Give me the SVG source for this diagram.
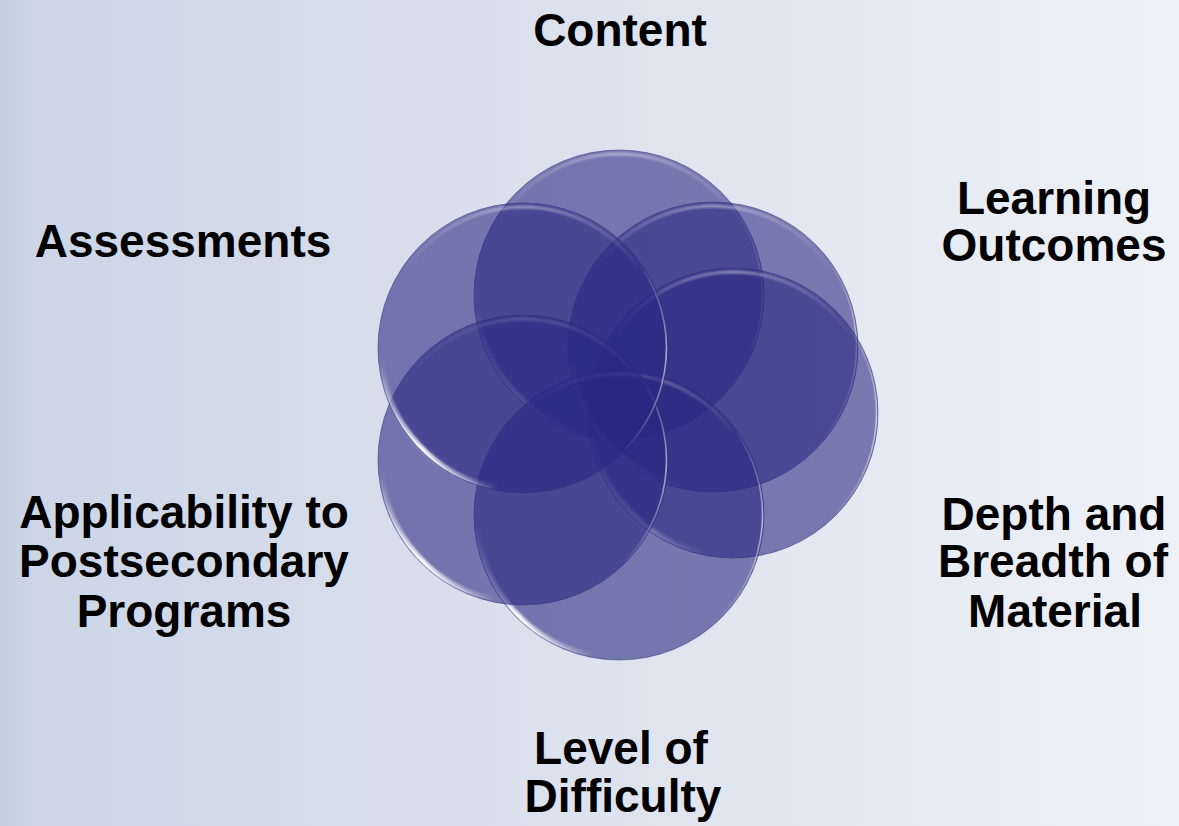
<svg xmlns="http://www.w3.org/2000/svg" width="1179" height="826" viewBox="0 0 1179 826">
  <defs>
    <linearGradient id="bg" x1="0" y1="0" x2="1179" y2="0" gradientUnits="userSpaceOnUse">
      <stop offset="0" stop-color="#c3cfe2"/>
      <stop offset="0.03" stop-color="#ccd6e7"/>
      <stop offset="0.4" stop-color="#d9dfec"/>
      <stop offset="1" stop-color="#eef1f6"/>
    </linearGradient>
    <linearGradient id="topHi" x1="-125" y1="0" x2="125" y2="0" gradientUnits="userSpaceOnUse">
      <stop offset="0" stop-color="#ffffff" stop-opacity="0"/>
      <stop offset="0.5" stop-color="#ffffff" stop-opacity="0.45"/>
      <stop offset="1" stop-color="#ffffff" stop-opacity="0"/>
    </linearGradient>
    <linearGradient id="blHi" x1="-142" y1="12" x2="-25" y2="140" gradientUnits="userSpaceOnUse">
      <stop offset="0" stop-color="#ffffff" stop-opacity="0"/>
      <stop offset="0.55" stop-color="#ffffff" stop-opacity="0.95"/>
      <stop offset="1" stop-color="#ffffff" stop-opacity="0"/>
    </linearGradient>
    <linearGradient id="rHi" x1="0" y1="-90" x2="0" y2="110" gradientUnits="userSpaceOnUse">
      <stop offset="0" stop-color="#ffffff" stop-opacity="0"/>
      <stop offset="0.5" stop-color="#ffffff" stop-opacity="0.6"/>
      <stop offset="1" stop-color="#ffffff" stop-opacity="0"/>
    </linearGradient>
    <filter id="soft" x="-20%" y="-20%" width="140%" height="140%">
      <feGaussianBlur stdDeviation="0.9"/>
    </filter>
    <g id="disc">
      <circle r="145" fill="#272781" fill-opacity="0.58" stroke="#33337a" stroke-opacity="0.55" stroke-width="1"/>
      <path d="M -115.5 -80.9 A 141 141 0 0 1 115.5 -80.9" fill="none" stroke="url(#topHi)" stroke-width="3" filter="url(#soft)"/>
      <path d="M -141.5 12.4 A 142 142 0 0 0 -24.7 139.8" fill="none" stroke="url(#blHi)" stroke-width="4.5" filter="url(#soft)"/>
      <path d="M -142.8 12.5 A 143.3 143.3 0 0 0 -24.9 141.1" fill="none" stroke="url(#blHi)" stroke-width="1.5"/>
      <path d="M 117.5 -82.3 A 143.5 143.5 0 0 1 101.5 101.5" fill="none" stroke="url(#rHi)" stroke-width="1.6"/>
    </g>
  </defs>
  <style>
    .lbl { font-family: "Liberation Sans", Arial, sans-serif; font-weight: bold; font-size: 46px; fill: #000000; text-anchor: middle; }
  </style>
  <rect x="0" y="0" width="1179" height="826" fill="url(#bg)"/>
  <g id="connectors"/>
  <g id="node-content">
    <use href="#disc" x="619" y="295"/>
    <text class="lbl" x="620" y="46">Content</text>
  </g>
  <g id="node-learning-outcomes">
    <use href="#disc" x="713" y="347"/>
    <text class="lbl" x="1054" y="214">Learning</text>
    <text class="lbl" x="1054" y="261">Outcomes</text>
  </g>
  <g id="node-depth-breadth">
    <use href="#disc" x="733" y="413"/>
    <text class="lbl" x="1054" y="530">Depth and</text>
    <text class="lbl" x="1053" y="577">Breadth of</text>
    <text class="lbl" x="1055" y="627">Material</text>
  </g>
  <g id="node-level-difficulty">
    <use href="#disc" x="619" y="515"/>
    <text class="lbl" x="621" y="764">Level of</text>
    <text class="lbl" x="623" y="812">Difficulty</text>
  </g>
  <g id="node-applicability">
    <use href="#disc" x="523" y="460"/>
    <text class="lbl" x="184" y="528">Applicability to</text>
    <text class="lbl" x="184" y="577">Postsecondary</text>
    <text class="lbl" x="184" y="627">Programs</text>
  </g>
  <g id="node-assessments">
    <use href="#disc" x="523" y="348"/>
    <text class="lbl" x="183" y="257">Assessments</text>
  </g>
</svg>
